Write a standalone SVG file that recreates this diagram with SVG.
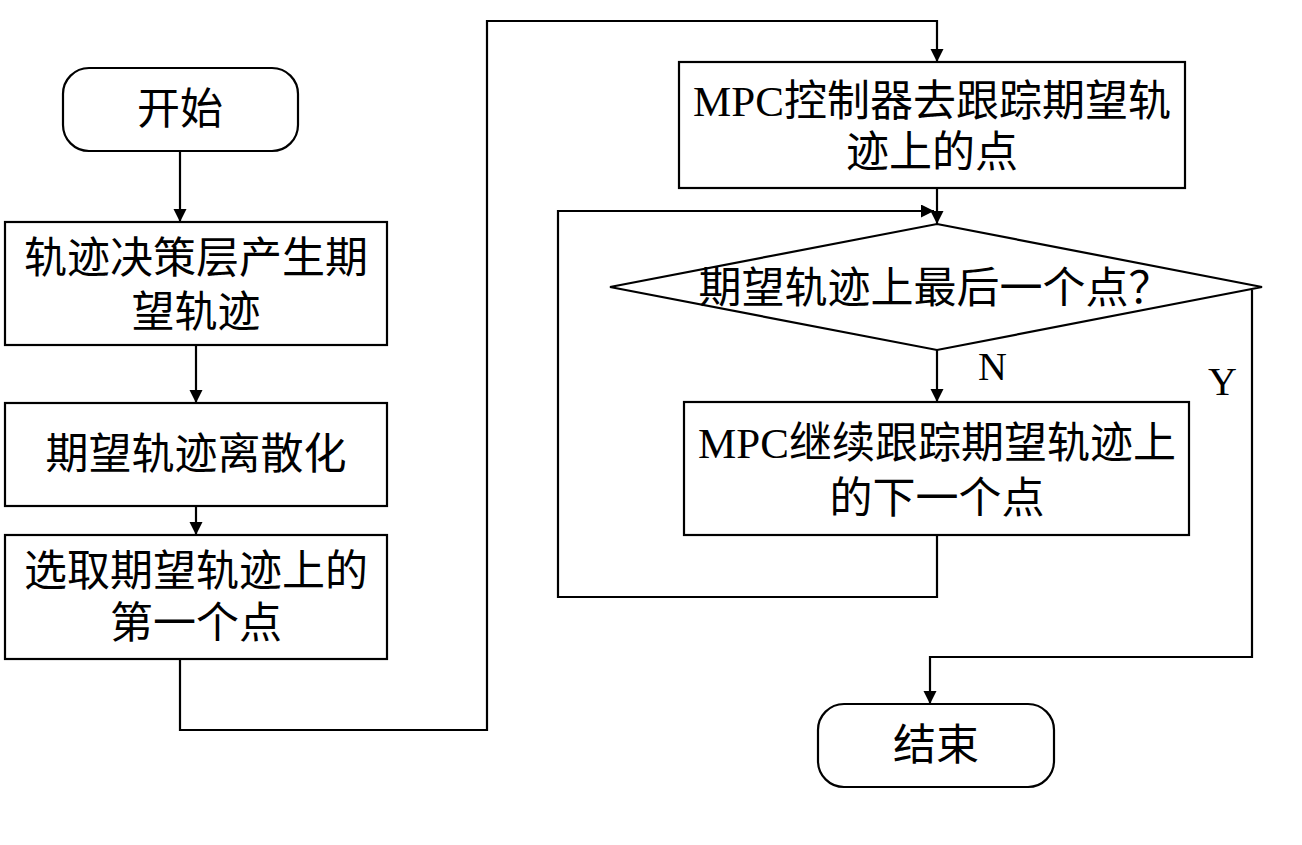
<svg xmlns="http://www.w3.org/2000/svg" width="1302" height="845" viewBox="0 0 1302 845">
<style>
.box{fill:#fff;stroke:#000;stroke-width:2.2}
.ln{fill:none;stroke:#000;stroke-width:2.2}
.t{font-family:"Liberation Serif","Noto Sans CJK SC",serif;font-size:43px;fill:#000;text-anchor:middle}
.lbl{font-family:"Liberation Serif",serif;font-size:40px;fill:#000}
</style>
<defs>
<marker id="arr" markerUnits="userSpaceOnUse" markerWidth="14" markerHeight="14" refX="13" refY="6.5" orient="auto">
<path d="M0,0 L13,6.5 L0,13 z" fill="#000"/>
</marker>
</defs>
<rect width="1302" height="845" fill="#fff"/>
<g id="connectors">
<line class="ln" x1="180" y1="151" x2="180" y2="222" marker-end="url(#arr)"/>
<line class="ln" x1="196" y1="345" x2="196" y2="403" marker-end="url(#arr)"/>
<line class="ln" x1="196" y1="506" x2="196" y2="535" marker-end="url(#arr)"/>
<polyline class="ln" points="180,659 180,730 487,730 487,21 937,21 937,62" marker-end="url(#arr)"/>
<line class="ln" x1="937" y1="188" x2="937" y2="224" marker-end="url(#arr)"/>
<line class="ln" x1="937" y1="350" x2="937" y2="402" marker-end="url(#arr)"/>
<polyline class="ln" points="937,535 937,597 558,597 558,211 934,211" marker-end="url(#arr)"/>
<polyline class="ln" points="1252,290 1252,657 930,657 930,704" marker-end="url(#arr)"/>
<text class="lbl" x="978" y="380">N</text>
<text class="lbl" x="1208" y="395">Y</text>
</g>
<g id="start">
<rect class="box" x="63" y="68" width="235" height="83" rx="26"/>
<text class="t" x="180" y="124">开始</text>
</g>
<g id="gen">
<rect class="box" x="5" y="222" width="382" height="123"/>
<text class="t" x="196" y="273">轨迹决策层产生期</text>
<text class="t" x="196" y="327">望轨迹</text>
</g>
<g id="discrete">
<rect class="box" x="5" y="403" width="382" height="103"/>
<text class="t" x="196" y="469">期望轨迹离散化</text>
</g>
<g id="first">
<rect class="box" x="5" y="535" width="382" height="124"/>
<text class="t" x="196" y="586">选取期望轨迹上的</text>
<text class="t" x="196" y="638">第一个点</text>
</g>
<g id="track">
<rect class="box" x="679" y="62" width="506" height="126"/>
<text class="t" x="932" y="116">MPC控制器去跟踪期望轨</text>
<text class="t" x="932" y="167">迹上的点</text>
</g>
<g id="decision">
<polygon class="box" points="937,224 1262,287 937,350 610,287"/>
<text class="t" x="935" y="303">期望轨迹上最后一个点？</text>
</g>
<g id="next">
<rect class="box" x="684" y="402" width="505" height="133"/>
<text class="t" x="937" y="458">MPC继续跟踪期望轨迹上</text>
<text class="t" x="937" y="513">的下一个点</text>
</g>
<g id="end">
<rect class="box" x="818" y="704" width="236" height="83" rx="26"/>
<text class="t" x="936" y="760">结束</text>
</g>
</svg>
